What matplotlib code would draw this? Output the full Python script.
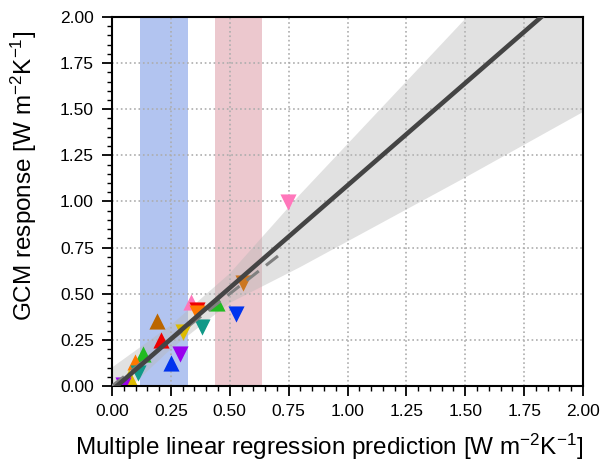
import numpy as np
import matplotlib
matplotlib.use("Agg")
import matplotlib.pyplot as plt
from matplotlib.ticker import MultipleLocator, FormatStrFormatter

plt.rcParams['font.family'] = ['Liberation Sans', 'DejaVu Sans']
plt.rcParams['mathtext.default'] = 'regular'

# model points: (MLR prediction, GCM response)
pred = [0.335, 0.36, 0.36, 0.384, 0.445, 0.525, 0.558, 0.19, 0.208, 0.303,
        0.289, 0.249, 0.133, 0.098, 0.112, 0.072, 0.048, 0.747]
resp = [0.457, 0.412, 0.394, 0.318, 0.448, 0.389, 0.557, 0.352, 0.249, 0.29,
        0.172, 0.123, 0.173, 0.132, 0.072, 0.05, 0.005, 0.997]
marks = ['^', 'v', 'v', 'v', '^', 'v', 'v', '^', '^', 'v',
         'v', '^', '^', '^', 'v', '^', 'v', 'v']
cols = ['#ff77bb', '#ee0000', '#ff7700', '#119988', '#22bb22', '#0033ee',
        '#cc7722', '#bb6600', '#ee0000', '#ddbb00', '#9900ee', '#0033ee',
        '#22bb22', '#ff7700', '#119988', '#ddbb00', '#9900ee', '#ff77bb']

# regression fit and its uncertainty band
slope, icpt = 1.11, -0.023
band_x = [0.0, 0.25, 0.5, 0.8, 1.5, 2.0]
band_hi = [0.10, 0.33, 0.61, 1.04, 1.99, 2.67]
band_lo = [-0.10, 0.20, 0.45, 0.645, 1.13, 1.485]

# observational ranges
blue_rng = (0.119, 0.323)
pink_rng = (0.437, 0.636)

fig = plt.figure(figsize=(6, 4.66), dpi=100)
ax = fig.add_axes([0.1867, 0.1717, 0.785, 0.7918])

ax.axvspan(*blue_rng, color='#b2c4f0', zorder=0, lw=0)
ax.axvspan(*pink_rng, color='#ecc8ce', zorder=0, lw=0)
ax.fill_between(band_x, band_lo, band_hi, color='0.72', alpha=0.42, lw=0, zorder=1)

ax.grid(True, ls=':', color='0.68', lw=1.2, zorder=0.5)
ax.set_axisbelow(True)

xx = np.array([0.0, 2.0])
ax.plot([0.0, 0.73], [0.0, 0.73], ls='--', color='0.5', lw=2.2, dashes=(5, 3), zorder=3)
for x, y, m, c in zip(pred, resp, marks, cols):
    ax.scatter(x, y, marker=m, s=135, color=c, lw=0, zorder=2)
ax.plot(xx, icpt + slope * xx, color='#444444', lw=3.3, zorder=4)

ax.set_xlim(0, 2)
ax.set_ylim(0, 2)
for a in (ax.xaxis, ax.yaxis):
    a.set_major_locator(MultipleLocator(0.25))
    a.set_minor_locator(MultipleLocator(0.05))
    a.set_major_formatter(FormatStrFormatter('%.2f'))
ax.tick_params(which='major', direction='out', length=7, width=1.3, labelsize=12.5, pad=6)
ax.tick_params(which='minor', direction='out', length=3.5, width=1.0)
for s in ax.spines.values():
    s.set_linewidth(1.5)

ax.set_xlabel('Multiple linear regression prediction [W m$^{-2}$K$^{-1}$]', fontsize=17.5)
ax.set_ylabel('GCM response [W m$^{-2}$K$^{-1}$]', fontsize=17.5)
ax.xaxis.set_label_coords(0.461, -0.125)
ax.yaxis.set_label_coords(-0.155, 0.569)

fig.savefig('out.png', dpi=100)
